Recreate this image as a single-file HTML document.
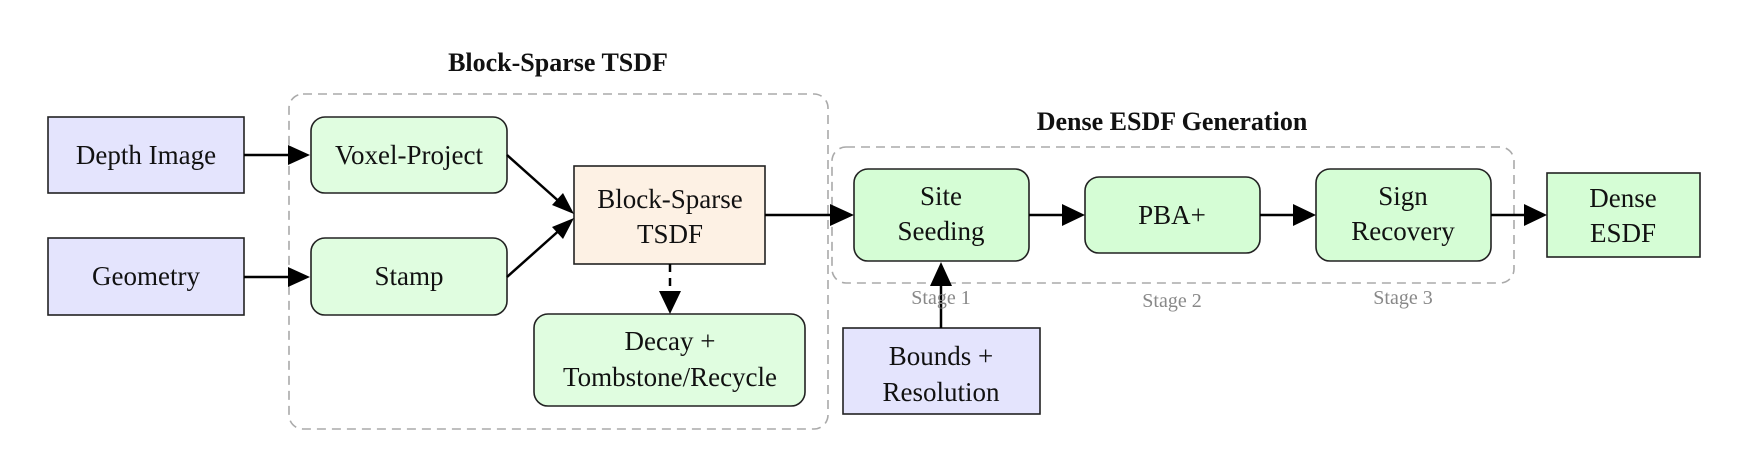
<!DOCTYPE html>
<html><head><meta charset="utf-8"><style>
html,body{margin:0;padding:0;background:#fff;}
svg{display:block;}
text{font-family:"Liberation Serif",serif;fill:#111;}
</style></head><body>
<svg width="1760" height="462" viewBox="0 0 1760 462" xmlns="http://www.w3.org/2000/svg">
<g fill="none" stroke="#aaa" stroke-width="1.6" stroke-dasharray="9,6">
<rect x="289" y="94" width="539" height="335" rx="14"/>
<rect x="832" y="147" width="682" height="136" rx="14"/>
</g>
<text x="558" y="71" font-size="26" font-weight="bold" text-anchor="middle">Block-Sparse TSDF</text>
<text x="1172" y="130" font-size="26" font-weight="bold" text-anchor="middle">Dense ESDF Generation</text>

<g stroke="#222" stroke-width="1.6">
<rect x="48" y="117" width="196" height="76" fill="#e4e4fd"/>
<rect x="48" y="238" width="196" height="77" fill="#e4e4fd"/>
<rect x="311" y="117" width="196" height="76" rx="14" fill="#e0fde0"/>
<rect x="311" y="238" width="196" height="77" rx="14" fill="#e0fde0"/>
<rect x="574" y="166" width="191" height="98" fill="#fdf1e4"/>
<rect x="534" y="314" width="271" height="92" rx="14" fill="#e0fde0"/>
<rect x="854" y="169" width="175" height="92" rx="14" fill="#d5fdd5"/>
<rect x="1085" y="177" width="175" height="76" rx="14" fill="#d5fdd5"/>
<rect x="1316" y="169" width="175" height="92" rx="14" fill="#d5fdd5"/>
<rect x="1547" y="173" width="153" height="84" fill="#d5fdd5"/>
<rect x="843" y="328" width="197" height="86" fill="#e4e4fd"/>
</g>

<g stroke="#000" stroke-width="2.5" fill="none">
<line x1="244" y1="155" x2="296" y2="155"/>
<line x1="244" y1="277" x2="296" y2="277"/>
<line x1="507" y1="155" x2="563" y2="205"/>
<line x1="507" y1="277" x2="563" y2="227"/>
<line x1="765" y1="215" x2="838" y2="215"/>
<line x1="1029" y1="215" x2="1072" y2="215"/>
<line x1="1260" y1="215" x2="1304" y2="215"/>
<line x1="1491" y1="215" x2="1534" y2="215"/>
<line x1="941" y1="328" x2="941" y2="276"/>
<line x1="670" y1="264" x2="670" y2="300" stroke-dasharray="8,6"/>
</g>
<g fill="#000">
<polygon points="310,155 288,145 288,165"/>
<polygon points="310,277 288,267 288,287"/>
<polygon points="574,214 552,205 563,193"/>
<polygon points="574,218 563,239 552,227"/>
<polygon points="854,215 830,204 830,226"/>
<polygon points="1085,215 1062,204 1062,226"/>
<polygon points="1316,215 1293,204 1293,226"/>
<polygon points="1547,215 1524,204 1524,226"/>
<polygon points="941,262 930,286 952,286"/>
<polygon points="670,314 659,291 681,291"/>
</g>

<g font-size="27" text-anchor="middle">
<text x="146" y="164">Depth Image</text>
<text x="146" y="285">Geometry</text>
<text x="409" y="164">Voxel-Project</text>
<text x="409" y="285">Stamp</text>
<text x="670" y="208">Block-Sparse</text>
<text x="670" y="243">TSDF</text>
<text x="670" y="350">Decay +</text>
<text x="670" y="386">Tombstone/Recycle</text>
<text x="941" y="205">Site</text>
<text x="941" y="240">Seeding</text>
<text x="1172" y="224">PBA+</text>
<text x="1403" y="205">Sign</text>
<text x="1403" y="240">Recovery</text>
<text x="1623" y="207">Dense</text>
<text x="1623" y="242">ESDF</text>
<text x="941" y="365">Bounds +</text>
<text x="941" y="401">Resolution</text>
</g>
<g font-size="20" text-anchor="middle">
<text x="941" y="304" style="fill:#888">Stage 1</text>
<text x="1172" y="307" style="fill:#888">Stage 2</text>
<text x="1403" y="304" style="fill:#888">Stage 3</text>
</g>
</svg>
</body></html>
